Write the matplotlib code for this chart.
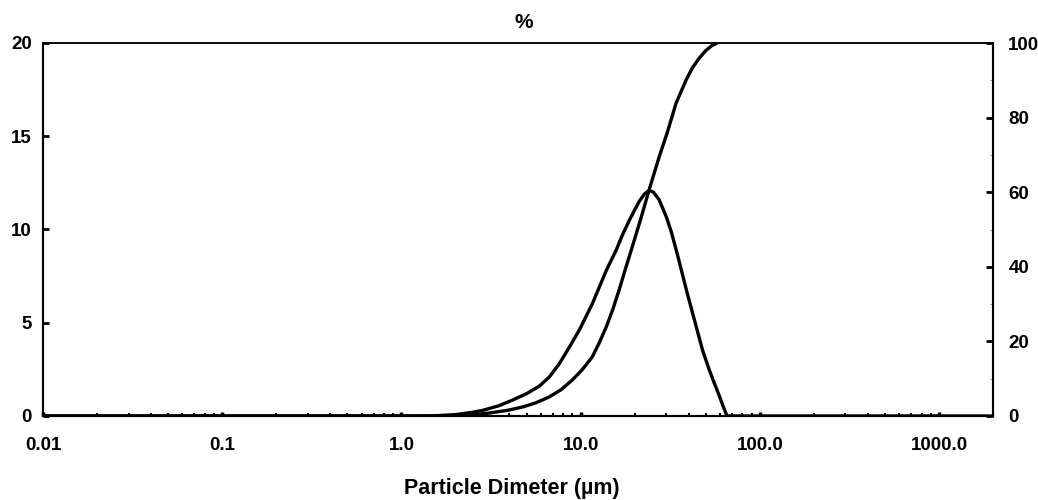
import matplotlib
matplotlib.use("Agg")
import matplotlib.pyplot as plt
from matplotlib.ticker import FixedLocator, LogLocator, NullFormatter, MultipleLocator

plt.rcParams['font.family'] = ['Liberation Sans', 'DejaVu Sans']
plt.rcParams['font.weight'] = 'bold'

# Frequency distribution (left axis, %)
freq_d = [0.01, 1.26, 1.6, 2.03, 2.5, 2.83, 3.5, 4.16, 5.0, 5.88, 6.7, 7.6, 8.6, 9.82,
          11.6, 13.9, 15.8, 17.1, 18.7, 21.2, 22.7, 24.1, 25.5, 27.4, 30.0, 32.0, 34.5,
          39.3, 44.7, 48.0, 52.1, 55.5, 59.3, 62.5, 65.6, 2000]
freq_v = [0.0, 0.0, 0.02, 0.08, 0.2, 0.3, 0.55, 0.85, 1.2, 1.6, 2.1, 2.8, 3.65, 4.6,
          6.0, 7.8, 8.9, 9.7, 10.5, 11.5, 11.9, 12.1, 12.0, 11.6, 10.7, 9.9, 8.74,
          6.6, 4.6, 3.5, 2.5, 1.8, 1.1, 0.5, 0.0, 0.0]

# Cumulative distribution (right axis, %)
cum_d = [0.01, 1.5, 2.1, 2.6, 3.09, 3.9, 4.73, 5.6, 6.68, 7.8, 8.98, 10.2, 11.6, 12.7,
         13.9, 15.1, 16.4, 17.8, 19.4, 21.7, 24.1, 27.4, 30.4, 34.1, 38.8, 42.0, 45.8,
         50.0, 54.0, 57.7]
cum_v = [0.0, 0.0, 0.1, 0.4, 0.8, 1.5, 2.4, 3.5, 5.1, 7.1, 9.65, 12.4, 15.8, 19.6,
         23.9, 28.5, 33.8, 39.5, 45.3, 53.0, 60.6, 69.4, 75.9, 83.9, 90.1, 93.3, 95.9,
         98.0, 99.3, 100.0]

x_ticks = [0.01, 0.1, 1, 10, 100, 1000]
x_tick_labels = ["0.01", "0.1", "1.0", "10.0", "100.0", "1000.0"]
left_ticks = [0, 5, 10, 15, 20]
right_ticks = [0, 20, 40, 60, 80, 100]

fig = plt.figure(figsize=(10.38, 5.0), dpi=100)
ax = fig.add_axes([43/1038, 1 - 416/500, (993-43)/1038, (416-43)/500])
ax2 = ax.twinx()

ax.plot(freq_d, freq_v, color='black', lw=2.4, solid_capstyle='round',
        solid_joinstyle='round', zorder=3)
ax2.plot(cum_d, cum_v, color='black', lw=2.4, solid_capstyle='round',
         solid_joinstyle='round', zorder=3)

ax.set_xscale('log')
ax.set_xlim(0.01, 2000)
ax.set_ylim(0, 20)
ax2.set_ylim(0, 100)

ax.xaxis.set_major_locator(FixedLocator(x_ticks))
ax.set_xticklabels(x_tick_labels)
ax.xaxis.set_minor_locator(LogLocator(base=10, subs=range(2, 10), numticks=20))
ax.xaxis.set_minor_formatter(NullFormatter())
ax.set_yticks(left_ticks)
ax2.set_yticks(right_ticks)
ax2.yaxis.set_minor_locator(MultipleLocator(10))

for a in (ax, ax2):
    for s in a.spines.values():
        s.set_linewidth(1.5)
        s.set_color('black')
    a.spines['top'].set_linewidth(1.1)

ax.tick_params(axis='x', which='major', direction='in', length=3, width=2.5, pad=15, labelsize=13.5)
ax.tick_params(axis='x', which='minor', direction='in', length=2, width=1.5)
ax.tick_params(axis='y', which='major', direction='in', length=4, width=2, pad=8, labelsize=13.5)
ax2.tick_params(axis='y', which='major', direction='in', length=5, width=2, pad=11, labelsize=13.5)
ax2.tick_params(axis='y', which='minor', direction='in', length=2, width=0.6, color='#888888')

for lab in ax.get_xticklabels() + ax.get_yticklabels() + ax2.get_yticklabels():
    lab.set_fontweight('bold')

fig.text(512/1038, 1 - 494/500, "Particle Dimeter (µm)", ha='center', va='baseline',
         fontsize=15.5, fontweight='bold')
fig.text(524/1038, 1 - 22/500, "%", ha='center', va='center', fontsize=15, fontweight='bold')

fig.savefig("out.png", dpi=100)
